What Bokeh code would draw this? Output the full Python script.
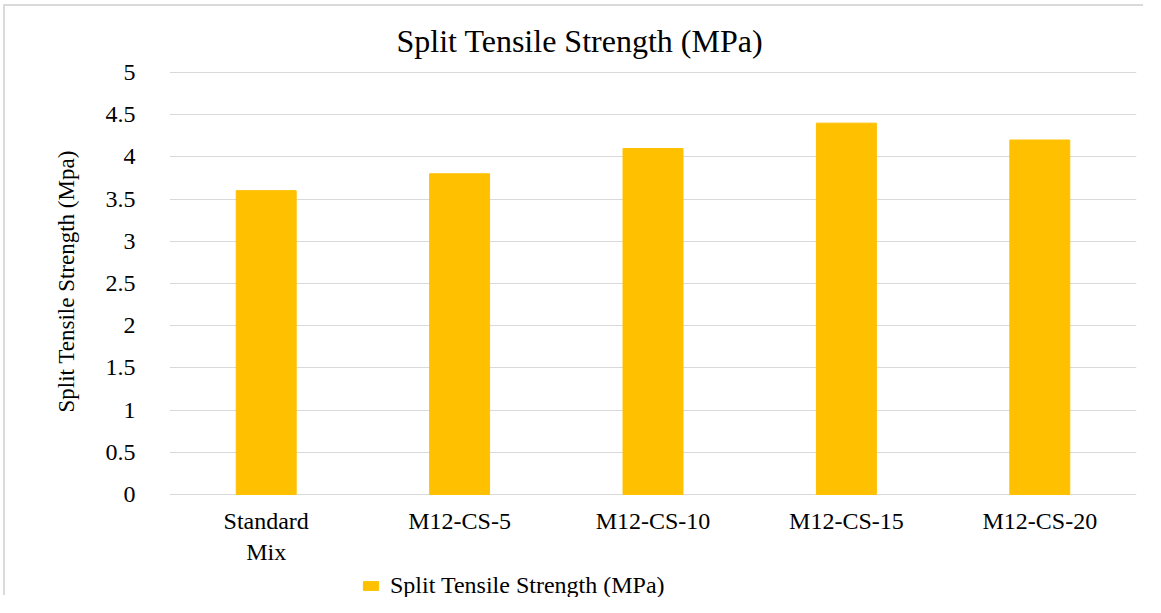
from bokeh.plotting import figure
from bokeh.models import ColumnDataSource, FixedTicker, Legend, LegendItem, Title
from bokeh.embed import file_html
from bokeh.resources import INLINE

categories = ["Standard\nMix", "M12-CS-5", "M12-CS-10", "M12-CS-15", "M12-CS-20"]
values = [3.6, 3.8, 4.1, 4.4, 4.2]
y_ticks = [0, 0.5, 1, 1.5, 2, 2.5, 3, 3.5, 4, 4.5, 5]
y_tick_labels = ["0", "0.5", "1", "1.5", "2", "2.5", "3", "3.5", "4", "4.5", "5"]
series_name = "Split Tensile Strength (MPa)"
title_text = "Split Tensile Strength (MPa)"
y_label = "Split Tensile Strength (Mpa)"

FONT = "Liberation Serif"

src = ColumnDataSource(dict(cat=categories, val=values))

# frame reaches the bottom edge so the legend (drawn inside it) is not clipped;
# the x axis is pinned at y = 0 and takes no panel space.
p = figure(width=1140, height=591, x_range=categories, y_range=(-1.2204, 5.012),
           output_backend="svg", toolbar_location=None,
           min_border_left=164, min_border_right=9, min_border_top=65,
           min_border_bottom=0)
p.styles = {"border-left": "2px solid #dadada", "border-top": "2px solid #dadada",
            "margin-left": "3px", "margin-top": "4px"}

r = p.vbar(x="cat", top="val", bottom=0, width=0.31, source=src,
           fill_color="#FFC000", line_color="#FFC000")

p.title.text = title_text
p.title.text_font = FONT
p.title.text_font_size = "32px"
p.title.text_font_style = "normal"
p.title.align = "left"
p.title.offset = 227
p.title.text_color = "#000000"
p.title.standoff = 25

p.outline_line_color = None
p.xgrid.grid_line_color = None
p.ygrid.grid_line_color = "#d9d9d9"
p.ygrid.grid_line_width = 1

p.yaxis.ticker = FixedTicker(ticks=y_ticks)
p.yaxis.major_label_overrides = {t: l for t, l in zip(y_ticks, y_tick_labels)}
for ax in (p.xaxis, p.yaxis):
    ax.axis_line_color = None
    ax.major_tick_line_color = None
    ax.minor_tick_line_color = None
    ax.major_label_text_font = FONT
    ax.major_label_text_font_size = "24px"
    ax.major_label_text_color = "#000000"
p.yaxis.major_label_standoff = 28
p.xaxis.fixed_location = 0
p.xaxis.major_label_standoff = 7

ylab = Title(text=y_label, text_font=FONT, text_font_size="23px",
             text_font_style="normal", text_color="#000000",
             align="left", offset=185, standoff=47)
p.add_layout(ylab, "left")

legend = Legend(items=[LegendItem(label=series_name, renderers=[r])],
                orientation="horizontal", location=(192, -2),
                label_text_font=FONT, label_text_font_size="24px",
                label_text_color="#000000",
                glyph_width=19, glyph_height=11, padding=0, margin=0,
                border_line_color=None, background_fill_alpha=0,
                label_standoff=10)
p.add_layout(legend, "center")

open("out.html", "w").write(file_html(p, INLINE))
